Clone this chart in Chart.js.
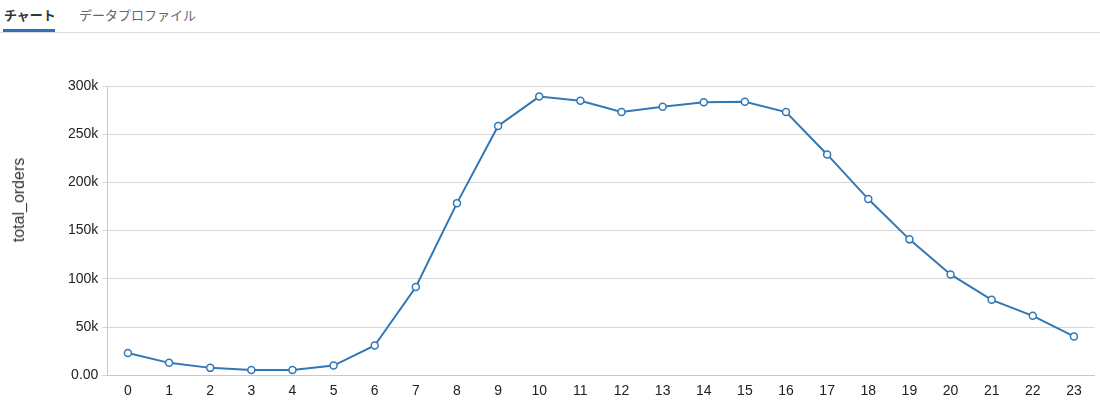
<!DOCTYPE html>
<html>
<head>
<meta charset="utf-8">
<script src="https://cdn.jsdelivr.net/npm/chart.js@4.4.0/dist/chart.umd.min.js"></script>
<style>
  html, body { margin: 0; padding: 0; background: #fff; width: 1100px; height: 409px; overflow: hidden; font-family: "Liberation Sans", Arial, sans-serif; }
  .tabs { position: absolute; left: 0; top: 0; width: 1100px; height: 32px; border-bottom: 1px solid #dcdcdc; }
  .tab { position: absolute; top: 5px; font-size: 13px; font-family: "Noto Sans CJK JP", sans-serif; }
  .tab.active { left: 4px; color: #333; font-weight: bold; }
  .tab.active::after { content: ""; position: absolute; left: -1px; right: 1px; top: 24px; height: 3px; background: #2f6fb5; }
  .tab.other { left: 79px; color: #666; }
  .wrap { position: absolute; left: 0; top: 40px; width: 1100px; height: 369px; }
  .ytitle { position: absolute; left: 19px; top: 200px; transform: translate(-50%, -50%) rotate(-90deg); white-space: nowrap; font-size: 16px; color: #333; }
</style>
</head>
<body>
<div class="tabs">
  <div class="tab active">チャート</div>
  <div class="tab other">データプロファイル</div>
</div>
<div class="wrap"><canvas id="chart"></canvas></div>
<div class="ytitle">total_orders</div>
<script>
  // 時間帯ごとの注文数
  const hours = ['0','1','2','3','4','5','6','7','8','9','10','11','12','13','14','15','16','17','18','19','20','21','22','23'];
  const totalOrders = [23000, 12800, 7600, 5500, 5500, 10000, 30800, 91500, 178500, 258500, 289000, 284600, 273000, 278500, 283200, 283700, 273000, 229000, 182700, 140900, 104500, 78200, 61600, 40200];
  const yTicks = [0, 50000, 100000, 150000, 200000, 250000, 300000];

  function fmtTick(v){ return v === 0 ? '0.00' : (v / 1000) + 'k'; }

  const ctx = document.getElementById('chart').getContext('2d');
  new Chart(ctx, {
    type: 'line',
    data: {
      labels: hours,
      datasets: [{
        label: 'total_orders',
        data: totalOrders,
        borderColor: '#3277b6',
        borderWidth: 2,
        pointBackgroundColor: '#ffffff',
        pointBorderColor: '#3277b6',
        pointBorderWidth: 1.5,
        pointRadius: 3.5,
        tension: 0,
      }]
    },
    options: {
      responsive: true,
      maintainAspectRatio: false,
      animation: false,
      // 軸タイトルはHTML側で描画（縦位置を合わせるため）
      layout: { padding: { left: 64, right: 5, top: 46, bottom: 6 } },
      plugins: { legend: { display: false }, tooltip: { enabled: false } },
      scales: {
        x: {
          offset: true,
          grid: { display: false, drawOnChartArea: false, drawTicks: true, tickLength: 5, color: '#c8c8c8' },
          border: { color: '#c8c8c8' },
          ticks: { color: '#222', font: { family: 'Liberation Sans', size: 14 }, maxRotation: 0, autoSkip: false, padding: 3 },
        },
        y: {
          min: 0, max: 300000,
          afterBuildTicks: (axis) => { axis.ticks = yTicks.map(v => ({ value: v })); },
          grid: { color: '#d6d6d6', tickLength: 5 },
          border: { color: '#c8c8c8' },
          ticks: { color: '#222', font: { family: 'Liberation Sans', size: 14 }, padding: 4, callback: fmtTick },
        }
      }
    }
  });
</script>
</body>
</html>
